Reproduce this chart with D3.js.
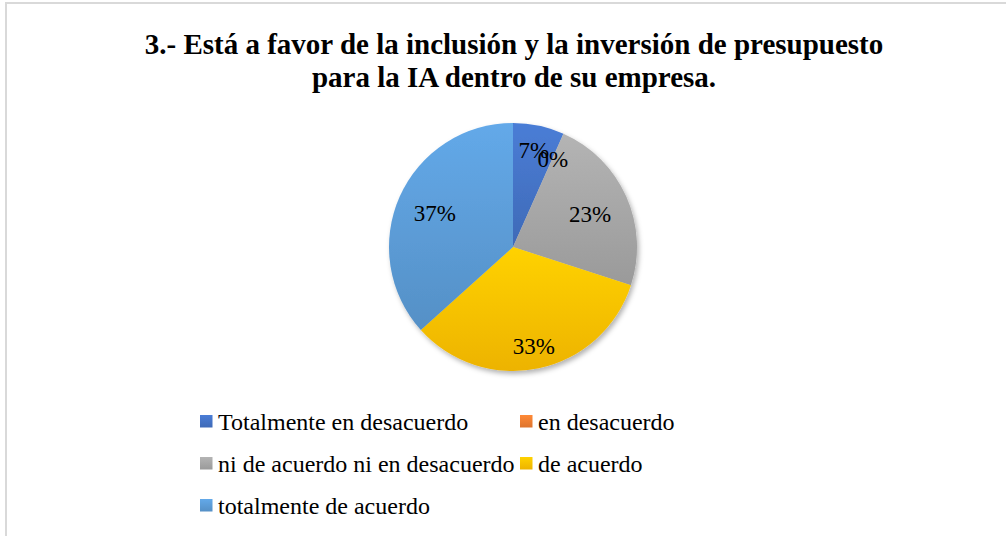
<!DOCTYPE html>
<html>
<head>
<meta charset="utf-8">
<script src="https://cdn.jsdelivr.net/npm/d3@7"></script>
<style>
  body { margin: 0; background: #fff; }
  svg { display: block; }
  svg text { font-family: 'Liberation Serif', 'Times New Roman', 'DejaVu Serif', serif; }
</style>
</head>
<body>
<svg id="chart" width="1006" height="536"></svg>
<script>
// data (30 answers)
const categories = ['Totalmente en desacuerdo', 'en desacuerdo', 'ni de acuerdo ni en desacuerdo', 'de acuerdo', 'totalmente de acuerdo']
const counts = [2, 0, 7, 10, 11]
const colors = ['#4472C4', '#ED7D31', '#A5A5A5', '#FFC000', '#5B9BD5']
const titleLines = ['3.- Está a favor de la inclusión y la inversión de presupuesto', 'para la IA dentro de su empresa.']

const width = 1006
const height = 536
const cx = 513
const cy = 247
const radius = 124
// how far out each data label sits (fraction of radius), Excel "best fit" look
const labelR = [0.81, 0.79, 0.68, 0.81, 0.69]

const svg = d3.select('#chart')
const defs = svg.append('defs')

// chart frame, only top and left edges show
svg.append('rect')
  .attr('x', 6)
  .attr('y', 3)
  .attr('width', width + 20)
  .attr('height', height + 20)
  .attr('fill', '#fff')
  .attr('stroke', '#d9d9d9')
  .attr('stroke-width', 2)

svg.append('g')
  .selectAll('text')
  .data(titleLines)
  .enter().append('text')
  .attr('x', cx + 1)
  .attr('y', (d, i) => 54 + i * 33)
  .attr('text-anchor', 'middle')
  .style('font-weight', 'bold')
  .style('font-size', '29px')
  .attr('fill', '#000')
  .text(d => d)

// gradient per slice, lighter on top
colors.forEach((c, i) => {
  const g = defs.append('linearGradient')
    .attr('id', 'grad' + i)
    .attr('x1', 0).attr('y1', 0).attr('x2', 0).attr('y2', 1)
  g.append('stop').attr('offset', '0%').attr('stop-color', d3.color(c).brighter(0.25))
  g.append('stop').attr('offset', '100%').attr('stop-color', d3.color(c).darker(0.2))
})

const shadow = defs.append('filter')
  .attr('id', 'shadow')
  .attr('x', '-10%').attr('y', '-10%').attr('width', '130%').attr('height', '130%')
shadow.append('feDropShadow')
  .attr('dx', 2).attr('dy', 3)
  .attr('stdDeviation', 2.5)
  .attr('flood-color', '#000')
  .attr('flood-opacity', 0.3)

const pie = d3.pie().sort(null).value(d => d)
const arcs = pie(counts)
const arc = d3.arc().innerRadius(0).outerRadius(radius)
const total = d3.sum(counts)

const chart = svg.append('g')
  .attr('transform', `translate(${cx}, ${cy})`)

chart.append('g')
  .attr('filter', 'url(#shadow)')
  .selectAll('path')
  .data(arcs)
  .enter().append('path')
  .attr('d', arc)
  .attr('fill', (d, i) => `url(#grad${i})`)

chart.append('g')
  .selectAll('text')
  .data(arcs)
  .enter().append('text')
  .attr('transform', (d, i) => {
    const r = radius * labelR[i]
    return `translate(${d3.arc().innerRadius(r).outerRadius(r).centroid(d)})`
  })
  .attr('dy', '0.4em')
  .attr('text-anchor', 'middle')
  .style('font-size', '23px')
  .attr('fill', '#000')
  .text(d => Math.round(d.data / total * 100) + '%')

// legend, two columns
const legend = svg.append('g')
  .selectAll('g')
  .data(categories)
  .enter().append('g')
  .attr('transform', (d, i) => `translate(${200 + (i % 2) * 320}, ${430 + Math.floor(i / 2) * 42})`)

legend.append('rect')
  .attr('x', 0)
  .attr('y', -15)
  .attr('width', 12.5)
  .attr('height', 12.5)
  .attr('fill', (d, i) => `url(#grad${i})`)

legend.append('text')
  .attr('x', 18)
  .attr('y', 0)
  .style('font-size', '24px')
  .attr('fill', '#000')
  .text(d => d)
</script>
</body>
</html>
